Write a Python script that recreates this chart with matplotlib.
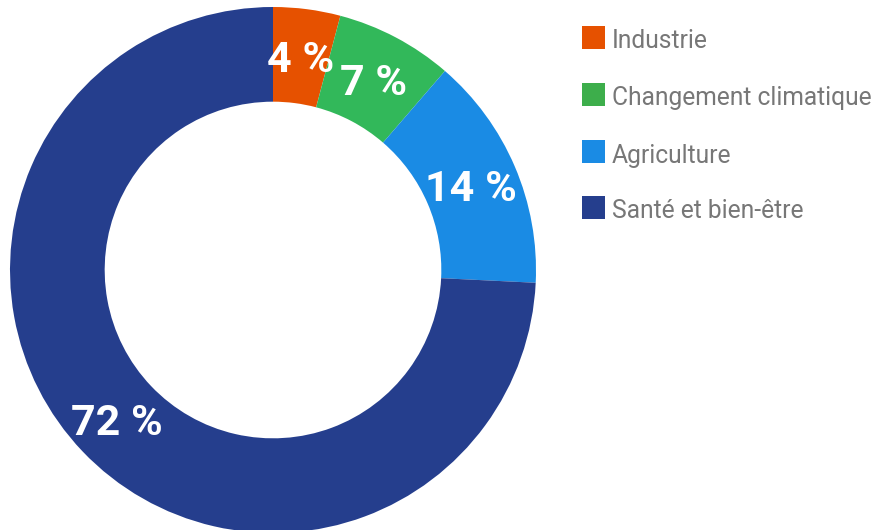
import matplotlib
matplotlib.use("Agg")
import matplotlib.pyplot as plt
from matplotlib.patches import Rectangle

categories = ["Industrie", "Changement climatique", "Agriculture", "Santé et bien-être"]
values = [4, 7, 14, 72]
labels = ["4 %", "7 %", "14 %", "72 %"]
colors = ["#E65100", "#32B85A", "#1A8BE4", "#253E8D"]
legend_colors = ["#E65100", "#3DAE4B", "#1A8BE4", "#253E8D"]

W, H = 874, 530
fig = plt.figure(figsize=(W / 100, H / 100), dpi=100)

cx, cy, R = 273, 270, 263
ax = fig.add_axes([(cx - R) / W, (H - cy - R) / H, 2 * R / W, 2 * R / H])

it = iter(labels)
wedges, texts, autotexts = ax.pie(
    values, colors=colors, startangle=90, counterclock=False, radius=1,
    wedgeprops=dict(width=0.36, edgecolor="none", linewidth=0),
    autopct=lambda p: next(it), pctdistance=0.82,
)
ax.set_xlim(-1, 1)
ax.set_ylim(-1, 1)
ax.set_aspect("equal")
ax.axis("off")
for t in autotexts:
    t.set_fontfamily("Roboto")
    t.set_fontweight("bold")
    t.set_fontsize(31)
    t.set_color("white")
    t.set_va("center_baseline")

# legend
x0 = 582
sq = 23
y_tops = [26, 83, 140, 196]
for cat, col, yt in zip(categories, legend_colors, y_tops):
    fig.patches.append(Rectangle((x0 / W, (H - yt - sq) / H), sq / W, sq / H,
                                 transform=fig.transFigure, facecolor=col, edgecolor="none"))
    fig.text(612 / W, (H - yt - sq + 0.5) / H, cat, fontfamily="Roboto", fontweight="normal",
             fontsize=17.7, color="#777777", va="baseline", ha="left")

fig.savefig("out.png", dpi=100)
